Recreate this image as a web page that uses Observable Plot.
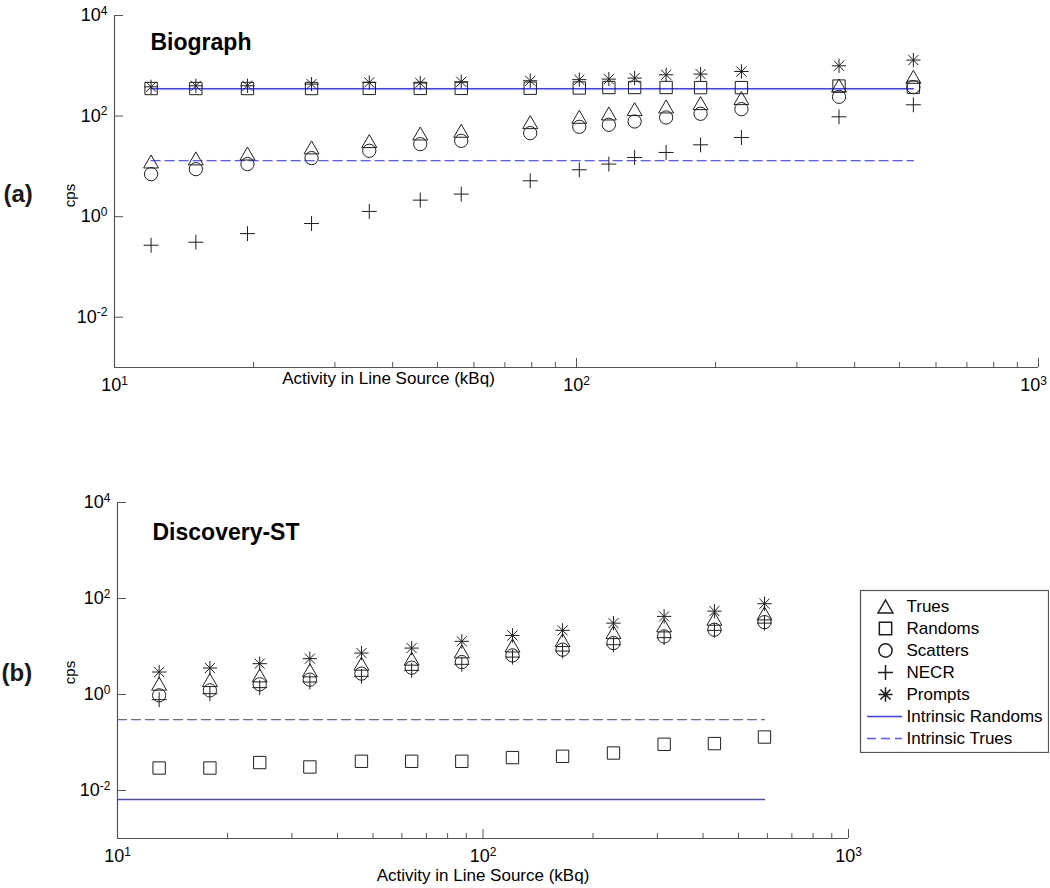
<!DOCTYPE html>
<html>
<head>
<meta charset="utf-8">
<script src="https://cdn.jsdelivr.net/npm/d3@7"></script>
<script src="https://cdn.jsdelivr.net/npm/@observablehq/plot@0.6"></script>
<style>
  body { margin: 0; background: #fff; }
  #wrap { position: relative; width: 1050px; height: 888px; overflow: hidden; background: #fff; }
  #wrap > .panel { position: absolute; }
</style>
</head>
<body>
<div id="wrap"></div>
<script>
// ---------------- Data: panel (a) Biograph ----------------
const actA       = [12, 15, 19.4, 26.7, 35.6, 45.9, 56.3, 79.4, 101.4, 117.5, 133.6, 156.3, 185.6, 227.5, 370, 536];
const truesA     = [12.5, 14.4, 18.0, 23.8, 31.8, 45.1, 51.0, 75.8, 96.8, 112.7, 137.5, 155.3, 180.9, 227.5, 406, 604];
const randomsA   = [353, 353, 353, 353, 355, 355, 355, 358, 362, 370, 370, 370, 368, 368, 395, 375];
const scattersA  = [7.0, 8.8, 11.1, 14.6, 20.4, 27.7, 32.2, 45.8, 61.2, 67.1, 78.1, 93.8, 111, 137.5, 241.7, 376];
const necrA      = [0.27, 0.31, 0.46, 0.73, 1.27, 2.13, 2.81, 5.16, 8.55, 11.1, 15.0, 18.9, 26.8, 37.5, 96.8, 167.6];
const promptsA   = [382, 400, 400, 432, 466, 455, 481, 504, 530, 543, 569, 662, 684, 769, 1000, 1297];
const intrinsicRandomsA = 350;
const intrinsicTruesA   = 13;
const intrinsicSpanA    = [12, 536];

// ---------------- Data: panel (b) Discovery-ST ----------------
const actB       = [13.0, 17.9, 24.5, 33.6, 46.5, 63.8, 87.5, 120.4, 165.1, 227.5, 313, 429.7, 589];
const truesB     = [1.68, 2.0, 2.5, 3.18, 4.39, 5.58, 7.91, 10.5, 13.6, 19.95, 27.5, 37.9, 48.9];
const randomsB   = [0.0294, 0.0294, 0.0382, 0.0309, 0.0406, 0.0406, 0.0406, 0.0485, 0.0516, 0.0604, 0.0918, 0.0949, 0.130];
const scattersB  = [0.96, 1.22, 1.63, 2.04, 2.72, 3.62, 4.74, 6.53, 8.59, 11.8, 16.2, 22.4, 32.2];
const necrB      = [0.78, 1.04, 1.39, 1.82, 2.39, 3.18, 4.25, 6.02, 8.03, 10.9, 15.3, 21.7, 30.7];
const promptsB   = [2.94, 3.56, 4.39, 5.58, 7.29, 9.27, 12.8, 17.0, 21.7, 30.7, 42.4, 54.6, 77.9];
const intrinsicRandomsB = 0.0065;
const intrinsicTruesB   = 0.30;
const intrinsicSpanB    = [10, 589];

// ---------------- Axes / labels ----------------
const xDomain = [10, 1000];
const yDomain = [1e-3, 1e4];
const xTicksMajor = [10, 100, 1000];
const xTicksMinor = [20, 30, 40, 50, 60, 70, 80, 90, 200, 300, 400, 500, 600, 700, 800, 900];
const yTicks = [1e-2, 1, 1e2, 1e4];
const seriesNames = ["Trues", "Randoms", "Scatters", "NECR", "Prompts", "Intrinsic Randoms", "Intrinsic Trues"];
const titles = ["Biograph", "Discovery-ST"];
const tags = ["(a)", "(b)"];
const xLabel = "Activity in Line Source (kBq)";
const yLabel = "cps";

// ---------------- Styling ----------------
const FONT = "Arial, 'Liberation Sans', sans-serif";
const INK = "#1e1e1e";
const AXIS = "#555";
const BLUE = "#4040ff";
const BLUE_D = "#5a5aff";
const R = 6.5;

const symTri = { draw(c, s) { const r = Math.sqrt(s / Math.PI); c.moveTo(0, -r); c.lineTo(1.15 * r, r); c.lineTo(-1.15 * r, r); c.closePath(); } };
const symSq  = { draw(c, s) { const r = Math.sqrt(s / Math.PI) * 0.95; c.moveTo(-r, -r); c.lineTo(r, -r); c.lineTo(r, r); c.lineTo(-r, r); c.closePath(); } };
const symCirc = { draw(c, s) { const r = Math.sqrt(s / Math.PI) * 1.02; c.moveTo(r, 0); c.arc(0, 0, r, 0, 2 * Math.PI); } };
const symPlus = { draw(c, s) { const r = Math.sqrt(s / Math.PI) * 1.15; c.moveTo(-r, 0); c.lineTo(r, 0); c.moveTo(0, -r); c.lineTo(0, r); } };
const symAst = { draw(c, s) { const r = Math.sqrt(s / Math.PI) * 1.1; const d = r * 0.7071;
  c.moveTo(-r, 0); c.lineTo(r, 0); c.moveTo(0, -r); c.lineTo(0, r);
  c.moveTo(-d, -d); c.lineTo(d, d); c.moveTo(-d, d); c.lineTo(d, -d); } };

const fmt = d => "10^" + Math.round(Math.log10(d));

function superscripts(svg) {
  const ns = "http://www.w3.org/2000/svg";
  svg.querySelectorAll("text").forEach(t => {
    const m = /^10\^(-?\d+)$/.exec(t.textContent);
    if (m) {
      t.textContent = "10";
      t.setAttribute("font-size", "18px");
      t.classList.add("pow");
      const ts = document.createElementNS(ns, "tspan");
      ts.setAttribute("dy", "-6.5");
      ts.setAttribute("font-size", "12px");
      ts.textContent = m[1];
      t.appendChild(ts);
    }
  });
  return svg;
}

function panel(o) {
  const fh = o.height - o.mt - o.mb;
  const fw = o.width - o.ml - o.mr;
  const pts = arr => o.act.map((x, i) => ({x, y: arr[i]}));
  const line = v => o.span.map(x => ({x, y: v}));
  const svg = Plot.plot({
    width: o.width, height: o.height,
    marginTop: o.mt, marginRight: o.mr, marginBottom: o.mb, marginLeft: o.ml,
    style: {fontFamily: FONT, fontSize: "18px", color: "#000", background: "transparent", overflow: "visible"},
    x: {type: "log", domain: xDomain},
    y: {type: "log", domain: yDomain},
    marks: [
      Plot.ruleX([xDomain[0]], {stroke: AXIS, strokeWidth: 1.2}),
      Plot.ruleY([yDomain[0]], {stroke: AXIS, strokeWidth: 1.2}),
      Plot.tickX(xTicksMajor, {x: d => d, insetTop: fh - 9, stroke: AXIS}),
      Plot.tickX(xTicksMinor, {x: d => d, insetTop: fh - 5, stroke: AXIS}),
      Plot.tickY(yTicks, {y: d => d, insetRight: fw - 9, stroke: AXIS}),
      Plot.axisX(xTicksMajor, {tickSize: 0, tickPadding: 11, tickFormat: fmt, label: null, fontSize: 18}),
      Plot.axisY(yTicks, {tickSize: 0, tickPadding: 7, tickFormat: fmt, label: null, fontSize: 18}),
      Plot.line(line(o.intrR), {x: "x", y: "y", stroke: BLUE, strokeWidth: 1.4}),
      Plot.line(line(o.intrT), {x: "x", y: "y", stroke: BLUE_D, strokeWidth: 1.4, strokeDasharray: "9,5"}),
      Plot.dot(pts(o.trues), {x: "x", y: "y", symbol: symTri, r: R, stroke: INK, fill: "none", strokeWidth: 1}),
      Plot.dot(pts(o.randoms), {x: "x", y: "y", symbol: symSq, r: R, stroke: INK, fill: "none", strokeWidth: 1}),
      Plot.dot(pts(o.scatters), {x: "x", y: "y", symbol: symCirc, r: R, stroke: INK, fill: "none", strokeWidth: 1}),
      Plot.dot(pts(o.necr), {x: "x", y: "y", symbol: symPlus, r: R, stroke: INK, fill: "none", strokeWidth: 1}),
      Plot.dot(pts(o.prompts), {x: "x", y: "y", symbol: symAst, r: R, stroke: INK, fill: "none", strokeWidth: 1}),
      Plot.text([o.title], {frameAnchor: "top-left", dx: o.titleDx, dy: o.titleDy, textAnchor: "start", fontSize: 23, fontWeight: "bold", fill: "#000"}),
      Plot.text([yLabel], {frameAnchor: "left", dx: o.cpsDx, dy: o.cpsDy, rotate: -90, textAnchor: "middle", fontSize: 15, fill: "#000"}),
      Plot.text([xLabel], {frameAnchor: o.xlAnchor, dx: o.xlDx, dy: o.xlDy, textAnchor: "middle", fontSize: 17, fill: "#000"}),
      Plot.text([o.tag], {frameAnchor: "left", dx: o.tagDx, dy: o.tagDy, textAnchor: "start", fontSize: 24, fontWeight: "bold", fill: "#1a1a1a"})
    ]
  });
  return superscripts(svg);
}

function legend() {
  const rows = seriesNames.map(name => ({name}));
  const markerSyms = [symTri, symSq, symCirc, symPlus, symAst];
  const marks = [Plot.frame({stroke: AXIS, strokeWidth: 1.2})];
  markerSyms.forEach((sym, i) => {
    marks.push(Plot.dot([rows[i]], {y: "name", frameAnchor: "left", dx: 25, symbol: sym, r: R, stroke: INK, fill: "none"}));
  });
  marks.push(Plot.ruleY([rows[5]], {y: "name", insetLeft: 7, insetRight: 146, stroke: BLUE, strokeWidth: 1.4}));
  marks.push(Plot.ruleY([rows[6]], {y: "name", insetLeft: 7, insetRight: 146, stroke: BLUE_D, strokeWidth: 1.4, strokeDasharray: "9,5"}));
  marks.push(Plot.text(rows, {y: "name", text: "name", frameAnchor: "left", dx: 46, textAnchor: "start", fontSize: 17, fill: "#000"}));
  return Plot.plot({
    width: 190, height: 164, marginTop: 1, marginRight: 1, marginBottom: 1, marginLeft: 1,
    style: {fontFamily: FONT, background: "#fff", color: "#000"},
    y: {type: "point", domain: seriesNames, range: [14.3, 151], padding: 0, axis: null},
    marks
  });
}

const wrap = document.getElementById("wrap");
function place(node, left, top) {
  const d = document.createElement("div");
  d.className = "panel";
  d.style.left = left + "px";
  d.style.top = top + "px";
  d.appendChild(node);
  wrap.appendChild(d);
}

place(panel({
  act: actA, trues: truesA, randoms: randomsA, scatters: scattersA, necr: necrA, prompts: promptsA,
  intrR: intrinsicRandomsA, intrT: intrinsicTruesA, span: intrinsicSpanA,
  title: titles[0], tag: tags[0],
  width: 1050, height: 410, mt: 15, mr: 12, mb: 43, ml: 114,
  titleDx: 36, titleDy: 18, cpsDx: -44, cpsDy: 4,
  xlAnchor: "bottom-left", xlDx: 274, xlDy: 16,
  tagDx: -111, tagDy: 3
}), 0, 0);

place(panel({
  act: actB, trues: truesB, randoms: randomsB, scatters: scattersB, necr: necrB, prompts: promptsB,
  intrR: intrinsicRandomsB, intrT: intrinsicTruesB, span: intrinsicSpanB,
  title: titles[1], tag: tags[1],
  width: 1050, height: 428, mt: 42, mr: 202, mb: 50, ml: 117,
  titleDx: 35, titleDy: 21, cpsDx: -47, cpsDy: 2,
  xlAnchor: "bottom", xlDx: 0, xlDy: 42,
  tagDx: -116, tagDy: 3
}), 0, 460);

place(legend(), 859, 589);

// keep tick labels that touch the right page edge fully visible
const wrapBox = wrap.getBoundingClientRect();
wrap.querySelectorAll("text.pow").forEach(t => {
  const b = t.getBoundingClientRect();
  const over = b.right - (wrapBox.right - 2);
  if (over > 0) t.setAttribute("dx", String(-Math.ceil(over)));
});
</script>
</body>
</html>
